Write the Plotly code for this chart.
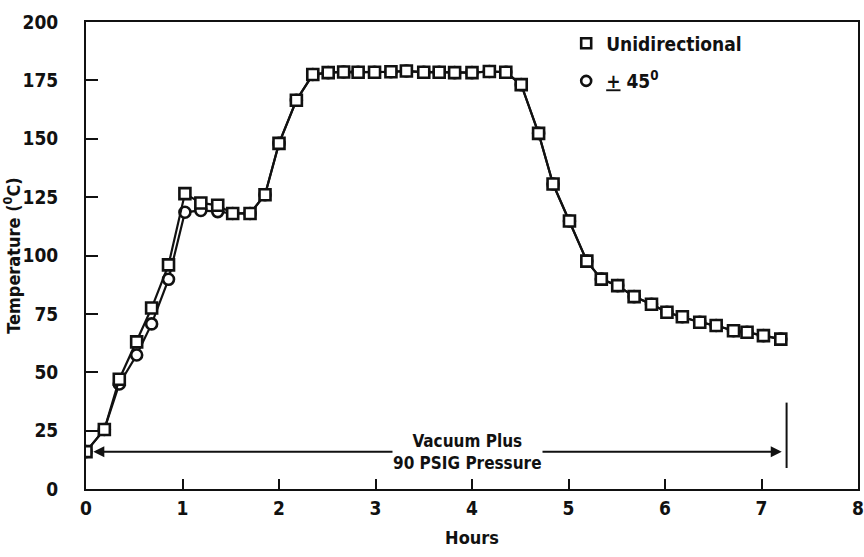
import plotly.graph_objects as go

# Cure cycle temperature history, sampled roughly every 10 minutes
hours = [0, 0.19, 0.345, 0.525, 0.68, 0.855, 1.025, 1.19, 1.365, 1.52, 1.70,
         1.855, 2.0, 2.18, 2.35, 2.51, 2.67, 2.82, 2.99, 3.16, 3.32, 3.50,
         3.66, 3.82, 4.00, 4.18, 4.35, 4.51, 4.69, 4.84, 5.01, 5.19, 5.34,
         5.51, 5.68, 5.86, 6.02, 6.18, 6.36, 6.53, 6.71, 6.85, 7.02, 7.20]

temp_unidirectional = [16, 25.5, 47, 63, 77.5, 96, 126.5, 122.5, 121.5, 118,
                       118, 126, 148, 166.5, 177.5, 178.3, 178.6, 178.5,
                       178.5, 178.7, 179, 178.5, 178.5, 178.3, 178.3, 178.8,
                       178.5, 173.2, 152.3, 130.6, 114.8, 97.6, 89.9, 87.1,
                       82.4, 79.1, 75.7, 73.8, 71.4, 70.0, 67.8, 67.1, 65.7,
                       64.2]

temp_pm45 = [16, 25.5, 45, 57.4, 70.7, 89.8, 118.5, 119.3, 118.8, 118,
             118, 126, 148, 166.5, 177.5, 178.3, 178.6, 178.5,
             178.5, 178.7, 179, 178.5, 178.5, 178.3, 178.3, 178.8,
             178.5, 173.2, 152.3, 130.6, 114.8, 97.6, 89.9, 87.1,
             82.4, 79.1, 75.7, 73.8, 71.4, 70.0, 67.8, 67.1, 65.7,
             64.2]

x_ticks = [0, 1, 2, 3, 4, 5, 6, 7, 8]
y_ticks = [0, 25, 50, 75, 100, 125, 150, 175, 200]

# Pressure-hold span (vacuum plus 90 psig) and its label
pressure_start, pressure_end, pressure_level = 0.06, 7.21, 16
pressure_bar_x = 7.26
pressure_bar_range = [9, 37]

FONT = "DejaVu Sans Condensed, Liberation Sans Narrow, Arial Narrow, sans-serif"
INK = "#111111"

marker_line = dict(width=2.6, color=INK)

fig = go.Figure()

fig.add_trace(go.Scatter(
    x=hours, y=temp_pm45, mode="lines+markers", showlegend=False,
    line=dict(color=INK, width=2.2),
    marker=dict(symbol="circle", size=11, color="white", line=marker_line),
))
fig.add_trace(go.Scatter(
    x=hours, y=temp_unidirectional, mode="lines+markers", showlegend=False,
    line=dict(color=INK, width=2.2),
    marker=dict(symbol="square", size=11, color="white", line=marker_line),
))

# Legend keys (markers only)
fig.add_trace(go.Scatter(
    x=[None], y=[None], mode="markers", name="Unidirectional",
    legendgroup="a",
    marker=dict(symbol="square", size=10, color="white", line=marker_line),
))
fig.add_trace(go.Scatter(
    x=[None], y=[None], mode="markers", name="<u>+</u> 45<sup>0</sup>",
    legendgroup="b",
    marker=dict(symbol="circle", size=10, color="white", line=marker_line),
))

# Double-headed arrow for the pressure span
fig.add_annotation(
    x=pressure_end, y=pressure_level, ax=pressure_start, ay=pressure_level,
    xref="x", yref="y", axref="x", ayref="y", text="", showarrow=True,
    arrowhead=2, arrowside="end+start", arrowsize=1.1, arrowwidth=2,
    arrowcolor=INK,
)
fig.add_shape(
    type="line", xref="x", yref="y",
    x0=pressure_bar_x, x1=pressure_bar_x,
    y0=pressure_bar_range[0], y1=pressure_bar_range[1],
    line=dict(color=INK, width=2),
)
fig.add_annotation(
    x=3.95, y=pressure_level, xref="x", yref="y",
    text="Vacuum Plus<br>90 PSIG Pressure", showarrow=False,
    font=dict(family=FONT, size=17, color=INK, weight="bold"),
    bgcolor="white", borderpad=0,
)

axis_common = dict(
    showgrid=False, zeroline=False, showline=True, linecolor=INK,
    linewidth=2, mirror=True, ticks="inside", tickcolor=INK, tickwidth=2,
    tickfont=dict(family=FONT, size=19, color=INK, weight="bold"),
)

fig.update_xaxes(
    range=[0, 8], tickvals=x_ticks, ticklen=10, ticklabelstandoff=1,
    title=dict(text="Hours", standoff=14,
               font=dict(family=FONT, size=18, color=INK, weight="bold")),
    **axis_common,
)
fig.update_yaxes(
    range=[0, 200], tickvals=y_ticks, ticklen=12, ticklabelstandoff=22,
    title=dict(text="Temperature (<sup>0</sup>C)", standoff=8,
               font=dict(family=FONT, size=18, color=INK, weight="bold")),
    **axis_common,
)

fig.update_layout(
    width=864, height=557,
    margin=dict(l=86, r=6, t=22, b=68, autoexpand=False),
    plot_bgcolor="white", paper_bgcolor="white",
    legend=dict(
        x=0.622, y=0.995, xanchor="left", yanchor="top",
        bgcolor="rgba(0,0,0,0)", tracegroupgap=10, itemwidth=30,
        font=dict(family=FONT, size=19, color=INK, weight="bold"),
    ),
    font=dict(family=FONT, color=INK),
)

fig.write_html("out.html")
